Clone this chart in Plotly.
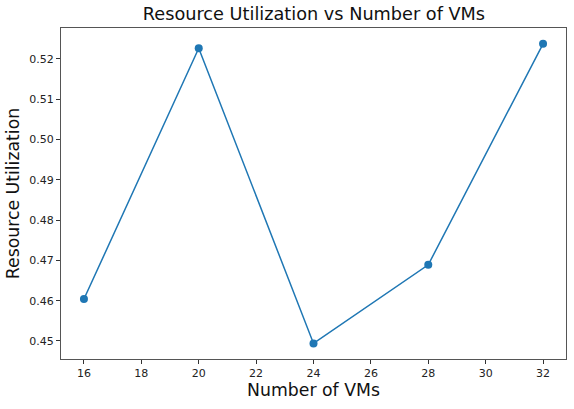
import plotly.graph_objects as go

# number of VMs and the measured utilization
num_vms = [16, 20, 24, 28, 32]
utilization = [0.4604, 0.5226, 0.4494, 0.4689, 0.5237]

x_ticks = [16, 18, 20, 22, 24, 26, 28, 30, 32]
y_ticks = [0.45, 0.46, 0.47, 0.48, 0.49, 0.50, 0.51, 0.52]
y_tick_labels = ["0.45", "0.46", "0.47", "0.48", "0.49", "0.50", "0.51", "0.52"]

fig = go.Figure()
fig.add_trace(go.Scatter(
    x=num_vms, y=utilization, mode="lines+markers",
    line=dict(color="#1f77b4", width=1.5),
    marker=dict(color="#1f77b4", size=8),
))

axis_style = dict(
    showline=True, linecolor="#555555", linewidth=1, mirror=True,
    showgrid=False, zeroline=False, automargin=False,
    ticks="outside", ticklen=4, tickcolor="#333333",
    tickfont=dict(size=11, color="#222222"),
)

fig.update_layout(
    width=574, height=409,
    margin=dict(l=61, r=8, t=28, b=50),
    paper_bgcolor="white", plot_bgcolor="white",
    font=dict(family="DejaVu Sans", color="#111111"),
    showlegend=False,
    title=dict(text="Resource Utilization vs Number of VMs", x=0.547, xanchor="center",
               y=0.967, yanchor="middle", font=dict(size=17.7)),
)
fig.update_xaxes(range=[15.2, 32.8], tickvals=x_ticks,
                 title=dict(text="Number of VMs", font=dict(size=17.3), standoff=4), **axis_style)
fig.update_yaxes(range=[0.44553, 0.52763], tickvals=y_ticks, ticktext=y_tick_labels,
                 title=dict(text="Resource Utilization", font=dict(size=17.3), standoff=5), **axis_style)

# page body has a default 8px margin; drop it so the figure sits at the window corner
fig.write_html("out.html", config={"displayModeBar": False},
               post_script="document.body.style.margin='0';")
